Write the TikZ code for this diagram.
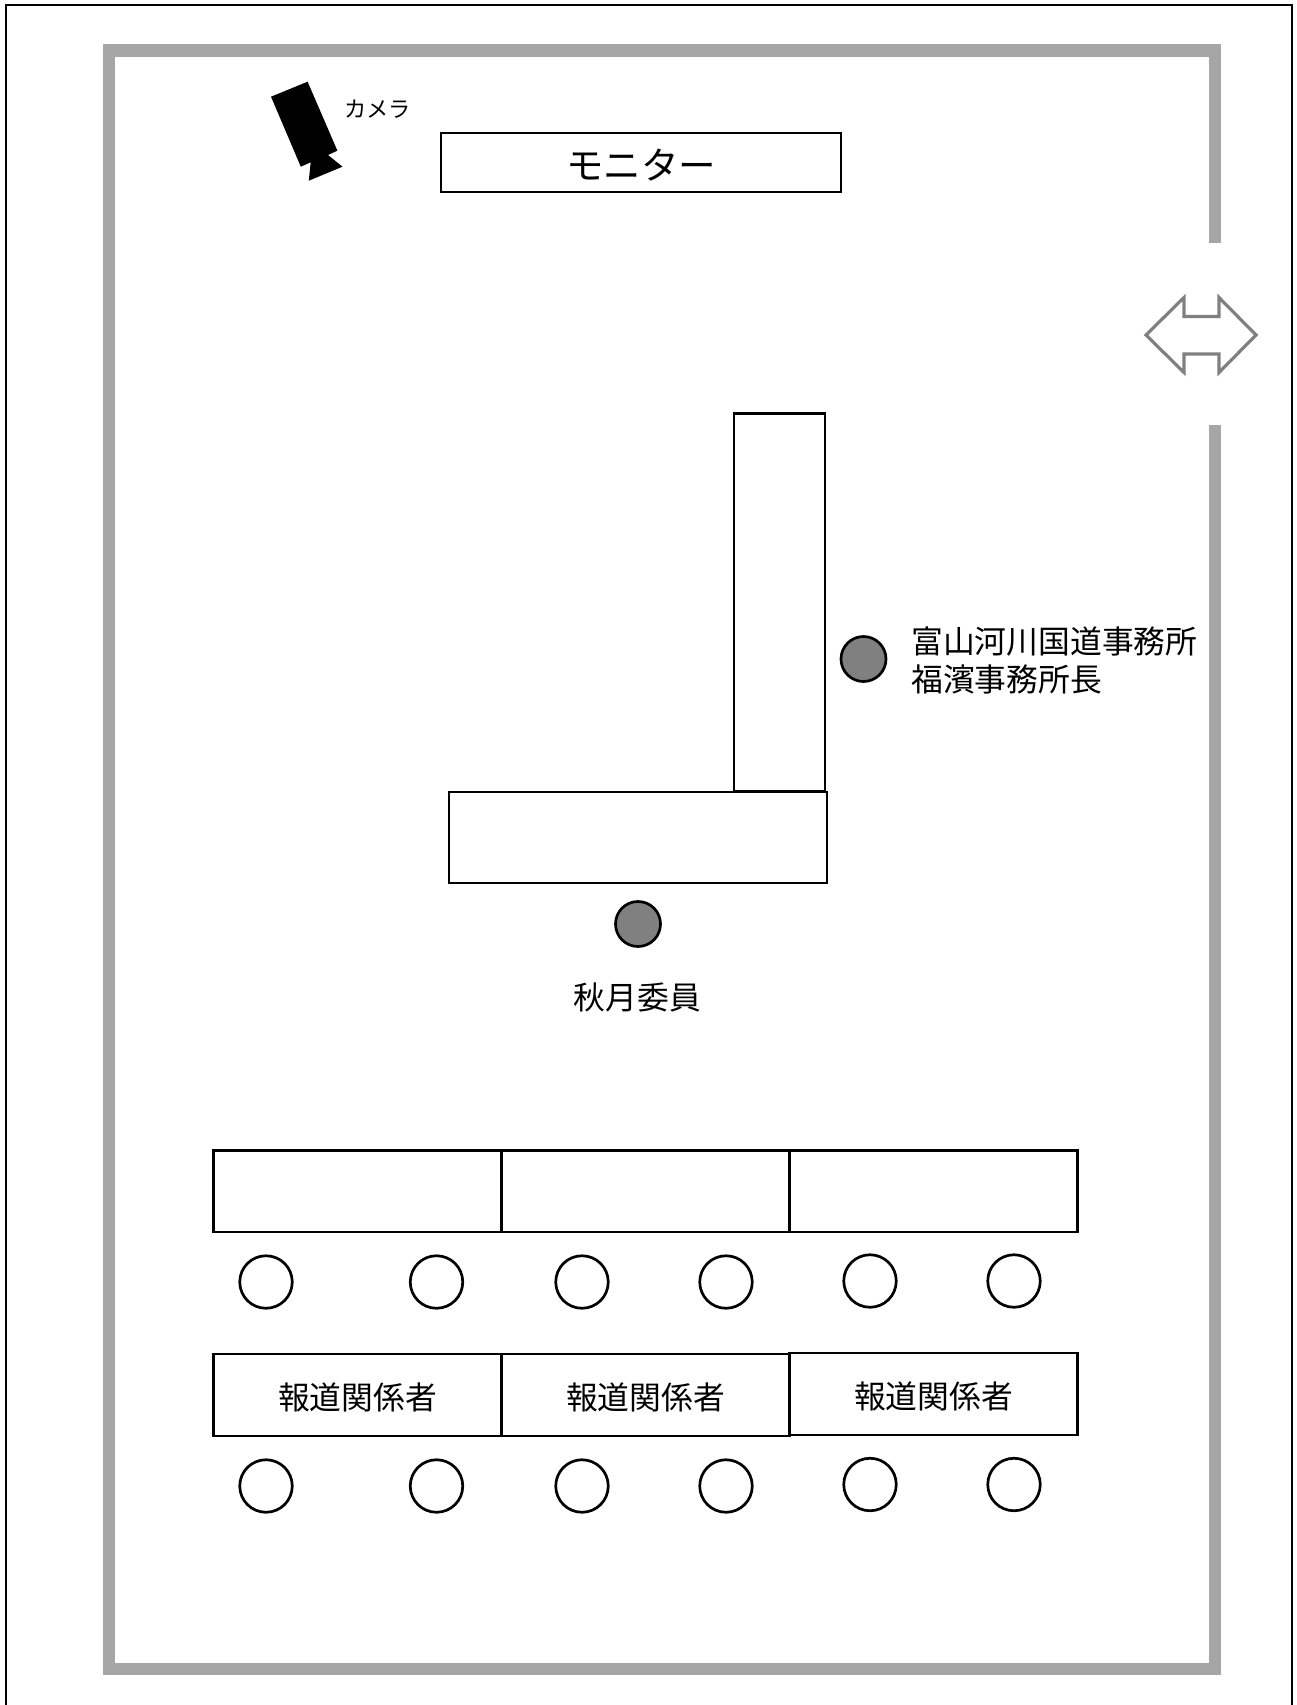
\documentclass[tikz,border=0pt]{standalone}
\usepackage{fontspec}
\newfontfamily\jp{Noto Sans CJK JP}
\definecolor{wallgrey}{HTML}{A6A6A6}
\definecolor{doorgrey}{HTML}{808080}
\newcommand{\lowered}[2]{\raisebox{-#1}[\height][\depth]{#2}}
\tikzset{
  desk/.style={draw=black,line width=2.7pt,fill=white,inner sep=0pt,outer sep=0pt,rectangle},
  seat/.style={circle,draw=black,line width=2.7pt,fill=white,inner sep=0pt,minimum size=52.5pt},
  person/.style={circle,draw=black,line width=2.7pt,fill=doorgrey,inner sep=0pt,minimum size=45pt},
  wall/.style={draw=wallgrey,line width=12.5pt,miter limit=10},
  label/.style={font=\jp\fontsize{31.8}{38.5}\selectfont,inner sep=0pt,text=black}
}
\begin{document}
\begin{tikzpicture}[x=1pt,y=-1pt]
\useasboundingbox (0,0) rectangle (1296,1705);
% outer frame (open at the bottom of the page)
\coordinate (fa) at (6,1705);
\coordinate (fb) at (6,5);
\coordinate (fc) at (1292,5);
\coordinate (fd) at (1292,1705);
\draw[line width=2.8pt] (fa) -- (fb) -- (fc) -- (fd);
% walls
\coordinate (wa) at (1215,243);
\coordinate (wb) at (1215,50.5);
\coordinate (wc) at (109,50.5);
\coordinate (wd) at (109,1669);
\coordinate (we) at (1215,1669);
\coordinate (wf) at (1215,425);
\draw[wall] (wa) -- (wb) -- (wc) -- (wd) -- (we) -- (wf);
% door arrow
\draw[doorgrey,line width=3.2pt,fill=white,miter limit=4]
  (1146,335) -- (1184,297.5) -- (1184,316.5) -- (1219,316.5) -- (1219,297.5) -- (1256,335)
  -- (1219,372.5) -- (1219,354) -- (1184,354) -- (1184,372.5) -- cycle;
% camera
\fill[black] (307.6,81.7) -- (337.4,150.7) -- (328,155) -- (342.5,166.7) -- (308.8,180.7)
  -- (310.7,162.3) -- (300.8,166.7) -- (271,96.7) -- cycle;
\node[label,font=\jp\fontsize{22.2}{26}\selectfont] (camlabel) at (377.5,109) {カメラ};
% monitor
\node[desk,minimum width=400pt,minimum height=59pt,font=\jp\fontsize{37.5}{44}\selectfont] (monitor) at (641,162.5) {\lowered{3pt}{モニター}};
% L table
\node[desk,minimum width=91pt,minimum height=378pt] (tall) at (779.5,602.5) {};
\node[desk,minimum width=378pt,minimum height=91pt] (wide) at (638,837.5) {};
% persons
\node[person] (p1) at (863.5,659) {};
\node[person] (p2) at (638,924) {};
\node[label,align=left,anchor=west] (fukuhama) at (911,660.5) {富山河川国道事務所\\福濱事務所長};
\node[label] (akizuki) at (637.5,997) {秋月委員};
% press desks row 1
\node[desk,minimum width=288pt,minimum height=81.5pt] (r1a) at (357.5,1191.25) {};
\node[desk,minimum width=288pt,minimum height=81.5pt] (r1b) at (645.5,1191.25) {};
\node[desk,minimum width=288pt,minimum height=81.5pt] (r1c) at (933.5,1191.25) {};
% seats row 1
\node[seat] (s11) at (266,1282) {};
\node[seat] (s12) at (436.5,1282) {};
\node[seat] (s13) at (582,1282) {};
\node[seat] (s14) at (726,1282) {};
\node[seat] (s15) at (870,1281) {};
\node[seat] (s16) at (1014,1281) {};
% press desks row 2
\node[desk,label,draw=black,line width=2.7pt,minimum width=288pt,minimum height=82pt] (r2a) at (357.5,1395) {\lowered{2pt}{報道関係者}};
\node[desk,label,draw=black,line width=2.7pt,minimum width=288pt,minimum height=82pt] (r2b) at (645.5,1395) {\lowered{2pt}{報道関係者}};
\node[desk,label,draw=black,line width=2.7pt,minimum width=288pt,minimum height=82pt] (r2c) at (933.5,1394) {\lowered{2pt}{報道関係者}};
% seats row 2
\node[seat] (s21) at (266,1486) {};
\node[seat] (s22) at (436.5,1486) {};
\node[seat] (s23) at (582,1486) {};
\node[seat] (s24) at (726,1486) {};
\node[seat] (s25) at (870,1484.5) {};
\node[seat] (s26) at (1014,1484.5) {};
\end{tikzpicture}
\end{document}
